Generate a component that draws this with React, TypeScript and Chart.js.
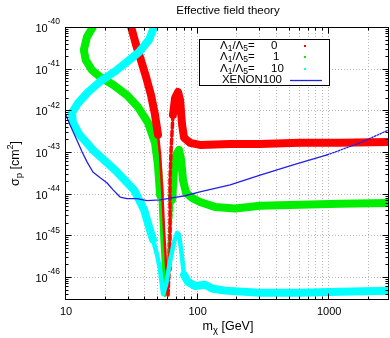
import React, { useEffect, useRef } from "react";
import { Chart, registerables } from "chart.js";
Chart.register(...registerables);

const TITLE = "Effective field theory";
const X_MIN = 10;
const X_MAX = 2900;
const Y_MIN = 2.8e-47;
const Y_MAX = 1e-40;
const X_MAJOR = [10, 100, 1000];
const X_MAJOR_LABELS = ["10", "100", "1000"];
const Y_MAJOR_EXP = [-40, -41, -42, -43, -44, -45, -46];
const LEGEND_VALUES = ["0", "1", "10"];

const massL0 = [31.2, 31.8, 34.7, 37.8, 41.3, 45.1, 48.3, 50.9, 52.8, 54.7, 56.6, 58.6, 60.7, 61.8, 62.8, 62.8, 64.0, 66.2, 68.7, 72.3, 74.9, 77.6, 80.3, 89.3, 106, 180, 304, 612, 1234, 2900];
const sigmaL0 = [1.48e-40, 1e-40, 3.7e-41, 1.6e-41, 6.3e-42, 2.3e-42, 7.8e-43, 2.6e-43, 8.5e-44, 1.23e-44, 1.35e-45, 1.95e-46, 3.7e-47, 1.48e-46, 2.3e-45, 2.1e-44, 1.12e-43, 7.8e-43, 2.0e-42, 2.75e-42, 1.78e-42, 4.5e-43, 2.2e-43, 1.66e-43, 1.48e-43, 1.55e-43, 1.55e-43, 1.66e-43, 1.66e-43, 1.74e-43];

const massL1 = [17.2, 16.3, 14.7, 13.9, 14.4, 16.0, 18.5, 23.2, 29.6, 35.9, 42.8, 48.3, 50.9, 52.8, 54.7, 56.6, 57.5, 58.6, 60.7, 62.8, 65.1, 67.4, 69.8, 73.6, 76.3, 78.9, 83.2, 92.5, 106, 138, 196, 304, 612, 1234, 2900];
const sigmaL1 = [1.48e-40, 1e-40, 5.8e-41, 2.8e-41, 1.6e-41, 9.3e-42, 6.3e-42, 4.1e-42, 2.3e-42, 1.2e-42, 5.0e-43, 1.66e-43, 4.9e-44, 9.3e-45, 7.8e-46, 1.12e-46, 3.7e-47, 4.9e-47, 2.6e-46, 1.35e-45, 7.1e-45, 3.7e-44, 8.5e-44, 1.12e-43, 6.5e-44, 2.1e-44, 1.05e-44, 7.9e-45, 6.3e-45, 4.8e-45, 4.4e-45, 5.1e-45, 5.4e-45, 5.7e-45, 6.0e-45];

const massL10 = [50.1, 47.5, 43.5, 36.5, 29.6, 23.6, 18.8, 15.0, 12.6, 11.3, 11.5, 12.8, 16.3, 24.0, 33.5, 39.9, 43.5, 46.7, 50.1, 52.8, 55.6, 58.6, 62.8, 67.4, 71.1, 73.6, 76.3, 80.3, 86.1, 97.5, 116, 131, 165, 304, 612, 1234, 2900];
const sigmaL10 = [1.48e-40, 1e-40, 4.9e-41, 2.5e-41, 1.45e-41, 8.3e-42, 5.1e-42, 2.75e-42, 1.5e-42, 8.7e-43, 5.0e-43, 2.7e-43, 1.12e-43, 3.7e-44, 1.23e-44, 4.1e-45, 1.6e-45, 7.8e-46, 3.4e-46, 1.48e-46, 3.9e-47, 6.5e-47, 2.3e-46, 6.9e-46, 1.14e-45, 1.02e-45, 4.5e-46, 1.12e-46, 7.6e-47, 6.1e-47, 6.5e-47, 5.3e-47, 4.7e-47, 4.2e-47, 4.2e-47, 4.4e-47, 4.7e-47];

const massXe = [10, 10.9, 12.3, 13.5, 14.7, 16.3, 18.5, 20.9, 23.2, 26.2, 29.6, 35.3, 42.0, 52.8, 65.1, 81.8, 106, 180, 304, 542, 982, 1750, 2900];
const sigmaXe = [8.7e-43, 4.5e-43, 1.95e-43, 1.0e-43, 5.8e-44, 3.3e-44, 2.4e-44, 1.8e-44, 1.23e-44, 8.3e-45, 7.6e-45, 7.6e-45, 6.8e-45, 7.1e-45, 7.9e-45, 8.9e-45, 1.1e-44, 1.62e-44, 2.8e-44, 4.9e-44, 8.5e-44, 1.66e-43, 3.4e-43];

const RED = "#ff0000";
const GREEN = "#00ee00";
const CYAN = "#00ffff";
const BLUE = "#2020e8";
const FONT = '"Liberation Sans", Arial, Helvetica, sans-serif';

const pts = (m: number[], s: number[]) => m.map((x, i) => ({ x, y: s[i] }));

type Part = { t: string; size: number; dy: number };
function richWidth(ctx: CanvasRenderingContext2D, parts: Part[]) {
  let w = 0;
  for (const p of parts) {
    ctx.font = `${p.size}px ${FONT}`;
    w += ctx.measureText(p.t).width;
  }
  return w;
}
function drawRich(ctx: CanvasRenderingContext2D, parts: Part[], x: number, y: number, align: "left" | "center" | "right") {
  const w = richWidth(ctx, parts);
  let cx = align === "left" ? x : align === "center" ? x - w / 2 : x - w;
  ctx.textAlign = "left";
  ctx.textBaseline = "middle";
  for (const p of parts) {
    ctx.font = `${p.size}px ${FONT}`;
    ctx.fillText(p.t, cx, y + p.dy);
    cx += ctx.measureText(p.t).width;
  }
}

function thinSeg(m: number[], s: number[], lo: number, hi: number, smax: number) {
  return (ctx: any) => {
    const i = ctx.p0DataIndex, j = ctx.p1DataIndex;
    const inM = m[i] >= lo && m[i] <= hi && m[j] >= lo && m[j] <= hi;
    return inM && s[i] < smax && s[j] < smax;
  };
}
function minIndex(s: number[], lo: number, hi: number, m: number[]) {
  let k = -1;
  for (let i = 0; i < s.length; i++) if (m[i] >= lo && m[i] <= hi && (k < 0 || s[i] < s[k])) k = i;
  return k;
}

const overlay = {
  id: "overlay",
  beforeDatasetsDraw(chart: any) {
    const { ctx, chartArea: a, scales } = chart;
    const xs = scales.x, ys = scales.y;
    ctx.save();
    ctx.strokeStyle = "#b8b8b8";
    ctx.lineWidth = 1;
    ctx.setLineDash([1, 2]);
    for (const d of X_MAJOR) {
      for (let k = 1; k <= 9; k++) {
        const v = d * k;
        if (v <= X_MIN || v >= X_MAX) continue;
        const px = Math.round(xs.getPixelForValue(v)) + 0.5;
        ctx.beginPath();
        ctx.moveTo(px, a.top);
        ctx.lineTo(px, a.bottom);
        ctx.stroke();
      }
    }
    for (const e of Y_MAJOR_EXP) {
      const v = Math.pow(10, e);
      if (v >= Y_MAX || v <= Y_MIN) continue;
      const py = Math.round(ys.getPixelForValue(v)) + 0.5;
      ctx.beginPath();
      ctx.moveTo(a.left, py);
      ctx.lineTo(a.right, py);
      ctx.stroke();
    }
    ctx.restore();
  },
  afterDatasetsDraw(chart: any) {
    const { ctx, chartArea: a, scales } = chart;
    const xs = scales.x, ys = scales.y;
    ctx.save();
    ctx.setLineDash([]);
    ctx.strokeStyle = "#000";
    ctx.lineWidth = 1;
    const L = Math.round(a.left) + 0.5, R = Math.round(a.right) - 0.5;
    const T = Math.round(a.top) + 0.5, B = Math.round(a.bottom) - 0.5;
    ctx.strokeRect(L, T, R - L, B - T);
    for (const d of X_MAJOR) {
      for (let k = 1; k <= 9; k++) {
        const v = d * k;
        if (v < X_MIN || v > X_MAX) continue;
        const len = k === 1 ? 6 : 3;
        const px = Math.round(xs.getPixelForValue(v)) + 0.5;
        ctx.beginPath();
        ctx.moveTo(px, B); ctx.lineTo(px, B - len);
        ctx.moveTo(px, T); ctx.lineTo(px, T + len);
        ctx.stroke();
      }
    }
    for (let e = -47; e <= -40; e++) {
      for (let k = 1; k <= 9; k++) {
        const v = k * Math.pow(10, e);
        if (v < Y_MIN * 0.999 || v > Y_MAX * 1.001) continue;
        const len = k === 1 ? 6 : 3;
        const py = Math.round(ys.getPixelForValue(v)) + 0.5;
        ctx.beginPath();
        ctx.moveTo(L, py); ctx.lineTo(L + len, py);
        ctx.moveTo(R, py); ctx.lineTo(R - len, py);
        ctx.stroke();
      }
    }
    ctx.fillStyle = "#000";
    X_MAJOR.forEach((v, i) => {
      const px = xs.getPixelForValue(v);
      drawRich(ctx, [{ t: X_MAJOR_LABELS[i], size: 11, dy: 0 }], px + 1, a.bottom + 12, "center");
    });
    for (const e of Y_MAJOR_EXP) {
      const py = ys.getPixelForValue(Math.pow(10, e));
      drawRich(ctx, [
        { t: "10", size: 11, dy: 2 },
        { t: String(e), size: 8.5, dy: -5 },
      ], a.left - 5, py, "right");
    }
    drawRich(ctx, [{ t: TITLE, size: 11.5, dy: 0 }], (a.left + a.right) / 2 + 1, 11, "center");
    drawRich(ctx, [
      { t: "m", size: 12.5, dy: 0 },
      { t: "χ", size: 9.5, dy: 3 },
      { t: " [GeV]", size: 12.5, dy: 0 },
    ], (a.left + a.right) / 2 + 1, 327, "center");
    ctx.save();
    ctx.translate(16, (a.top + a.bottom) / 2);
    ctx.rotate(-Math.PI / 2);
    drawRich(ctx, [
      { t: "σ", size: 12.5, dy: 0 },
      { t: "p", size: 9.5, dy: 3 },
      { t: " [cm", size: 12.5, dy: 0 },
      { t: "2", size: 9, dy: -5 },
      { t: "]", size: 12.5, dy: 0 },
    ], 0, 0, "center");
    ctx.restore();
    const bx = 199.5, by = 39.5, bw = 130, bh = 46;
    ctx.fillStyle = "#fff";
    ctx.fillRect(bx, by, bw, bh);
    ctx.strokeStyle = "#000";
    ctx.strokeRect(bx, by, bw, bh);
    ctx.fillStyle = "#000";
    const rows = [45.7, 57, 68.5];
    const cols = [RED, GREEN, CYAN];
    const valX = [271, 273, 271];
    rows.forEach((ry, i) => {
      drawRich(ctx, [
        { t: "Λ", size: 11.5, dy: 0 },
        { t: "1", size: 8.5, dy: 3 },
        { t: "/Λ", size: 11.5, dy: 0 },
        { t: "5", size: 8.5, dy: 3 },
        { t: "=", size: 11.5, dy: 0 },
      ], 220, ry, "left");
      ctx.fillStyle = "#000";
      drawRich(ctx, [{ t: LEGEND_VALUES[i], size: 11.5, dy: 0 }], valX[i], ry, "left");
      ctx.fillStyle = cols[i];
      ctx.fillRect(304, Math.round(ry) - 1, 2, 2);
      ctx.fillStyle = "#000";
    });
    drawRich(ctx, [{ t: "XENON100", size: 11.5, dy: 0 }], 282, 80, "right");
    ctx.strokeStyle = BLUE;
    ctx.lineWidth = 1.3;
    ctx.beginPath();
    ctx.moveTo(290, 80.5);
    ctx.lineTo(322, 80.5);
    ctx.stroke();
    ctx.restore();
  },
};

export default function App() {
  const ref = useRef<HTMLCanvasElement>(null);
  useEffect(() => {
    const canvas = ref.current!;
    const thinRed = thinSeg(massL0, sigmaL0, 50, 70, 1e-42);
    const thinGreen = thinSeg(massL1, sigmaL1, 50, 72, 1.5e-44);
    const thinCyan = thinSeg(massL10, sigmaL10, 46, 81, 1.2e-45);
    const redMin = minIndex(sigmaL0, 40, 80, massL0);
    const greenMin = minIndex(sigmaL1, 40, 80, massL1);
    const chart = new Chart(canvas, {
      type: "line",
      data: {
        datasets: [
          {
            label: "XENON100",
            data: pts(massXe, sigmaXe),
            borderColor: BLUE,
            borderWidth: 1.3,
            order: 0,
            segment: {
              borderDash: (c: any) => (massXe[c.p0DataIndex] >= 900 ? [1.5, 1.5] : undefined),
            },
          },
          {
            label: "L10",
            data: pts(massL10, sigmaL10),
            borderColor: CYAN,
            borderWidth: 8,
            order: 1,
            segment: { borderWidth: (c: any) => (thinCyan(c) ? 4.5 : 8) },
          },
          {
            label: "L0",
            data: pts(massL0, sigmaL0),
            borderColor: RED,
            borderWidth: 8,
            order: 2,
            segment: {
              borderWidth: (c: any) => (thinRed(c) ? (c.p0DataIndex >= redMin ? 3.5 : 2.5) : 8),
              borderDash: (c: any) => (thinRed(c) && c.p0DataIndex >= redMin ? [5, 3] : undefined),
            },
          },
          {
            label: "L1",
            data: pts(massL1, sigmaL1),
            borderColor: GREEN,
            borderWidth: 8,
            order: 3,
            segment: {
              borderWidth: (c: any) => (thinGreen(c) ? 3.5 : 8),
              borderDash: (c: any) => (thinGreen(c) && c.p0DataIndex >= greenMin ? [4, 3] : undefined),
            },
          },
        ],
      },
      options: {
        animation: false,
        responsive: false,
        layout: { padding: { left: 65, right: 1, top: 27, bottom: 38 } },
        scales: {
          x: { type: "logarithmic", min: X_MIN, max: X_MAX, display: false },
          y: { type: "logarithmic", min: Y_MIN, max: Y_MAX, display: false },
        },
        elements: {
          point: { radius: 0, hoverRadius: 0 },
          line: { tension: 0, borderJoinStyle: "round", borderCapStyle: "round", fill: false },
        },
        plugins: {
          legend: { display: false },
          title: { display: false },
          tooltip: { enabled: false },
        },
        events: [],
      } as any,
      plugins: [overlay],
    });
    return () => chart.destroy();
  }, []);
  return (
    <div style={{ position: "fixed", left: 0, top: 0, width: 390, height: 338, background: "#fff" }}>
      <canvas ref={ref} width={390} height={338} style={{ display: "block" }} />
    </div>
  );
}
